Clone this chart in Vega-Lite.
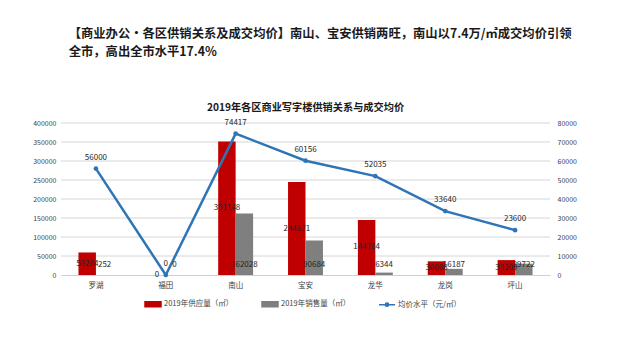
{
  "$schema": "https://vega.github.io/schema/vega-lite/v6.json",
  "background": "white",
  "padding": {"left": 32, "top": 28, "right": 5, "bottom": 5},
  "title": {
    "text": ["【商业办公·各区供销关系及成交均价】南山、宝安供销两旺，南山以7.4万/㎡成交均价引领", "全市，高出全市水平17.4%"],
    "anchor": "start",
    "dx": 36,
    "font": "Noto Sans CJK SC",
    "fontSize": 12.3,
    "fontWeight": "bold",
    "color": "#1a1a1a",
    "lineHeight": 18,
    "offset": 45
  },
  "datasets": {
    "bars": [
      {"district": "罗湖", "series": "2019年供应量（㎡）", "value": 59284},
      {"district": "罗湖", "series": "2019年销售量（㎡）", "value": 252},
      {"district": "福田", "series": "2019年供应量（㎡）", "value": 0},
      {"district": "福田", "series": "2019年销售量（㎡）", "value": 0},
      {"district": "南山", "series": "2019年供应量（㎡）", "value": 351148},
      {"district": "南山", "series": "2019年销售量（㎡）", "value": 162028},
      {"district": "宝安", "series": "2019年供应量（㎡）", "value": 244671},
      {"district": "宝安", "series": "2019年销售量（㎡）", "value": 90684},
      {"district": "龙华", "series": "2019年供应量（㎡）", "value": 144784},
      {"district": "龙华", "series": "2019年销售量（㎡）", "value": 6344},
      {"district": "龙岗", "series": "2019年供应量（㎡）", "value": 36008},
      {"district": "龙岗", "series": "2019年销售量（㎡）", "value": 16187},
      {"district": "坪山", "series": "2019年供应量（㎡）", "value": 39209},
      {"district": "坪山", "series": "2019年销售量（㎡）", "value": 29722}
    ],
    "price": [
      {"district": "罗湖", "price": 56000},
      {"district": "福田", "price": 0},
      {"district": "南山", "price": 74417},
      {"district": "宝安", "price": 60156},
      {"district": "龙华", "price": 52035},
      {"district": "龙岗", "price": 33640},
      {"district": "坪山", "price": 23600}
    ],
    "gridlines": [
      {"level": 50000}, {"level": 100000}, {"level": 150000}, {"level": 200000},
      {"level": 250000}, {"level": 300000}, {"level": 350000}, {"level": 400000}
    ]
  },
  "vconcat": [
    {
      "title": {
        "text": "2019年各区商业写字楼供销关系与成交均价",
        "font": "Noto Sans CJK SC",
        "fontSize": 10.2,
        "fontWeight": "bold",
        "color": "#1a1a1a",
        "offset": 5
      },
      "width": 489,
      "height": 152,
      "layer": [
        {
          "data": {"name": "gridlines"},
          "mark": {"type": "rule", "color": "#D6D6D6", "strokeWidth": 1},
          "encoding": {
            "y": {"field": "level", "type": "quantitative", "scale": {"domain": [0, 400000], "nice": false}, "axis": null}
          }
        },
        {
          "data": {"name": "bars"},
          "mark": {"type": "bar"},
          "encoding": {
            "x": {"field": "district", "type": "nominal", "sort": ["罗湖", "福田", "南山", "宝安", "龙华", "龙岗", "坪山"], "scale": {"paddingInner": 0.5, "paddingOuter": 0.25}, "title": null,
              "axis": {"labelAngle": 0, "labelFontSize": 7.5, "labelColor": "#404040", "domain": true, "domainColor": "#D0D0D0", "ticks": false, "labelPadding": 6, "grid": false}},
            "xOffset": {"field": "series", "type": "nominal", "scale": {"domain": ["2019年供应量（㎡）", "2019年销售量（㎡）"]}},
            "y": {"field": "value", "type": "quantitative", "scale": {"domain": [0, 400000], "nice": false}, "title": null,
              "axis": {"orient": "left", "values": [0, 50000, 100000, 150000, 200000, 250000, 300000, 350000, 400000], "format": "d", "labelOverlap": false, "grid": false, "domain": false, "ticks": false, "labelFontSize": 7, "labelColor": "#404040", "labelPadding": 5}},
            "color": {"field": "series", "type": "nominal",
              "scale": {"domain": ["2019年供应量（㎡）", "2019年销售量（㎡）", "均价水平（元/㎡）"], "range": ["#C00000", "#7F7F7F", "#2E75B6"]},
              "legend": {"orient": "none", "legendX": 83, "legendY": 172, "title": null, "direction": "horizontal", "symbolSize": 256, "labelFontSize": 7.5, "labelColor": "#404040", "columnPadding": 25, "labelOffset": 2,
                "encode": {"symbols": {"update": {
                  "shape": {"signal": "datum.value === '均价水平（元/㎡）' ? 'M-1,0H1M-0.2,0A0.2,0.2,0,1,0,0.2,0A0.2,0.2,0,1,0,-0.2,0' : 'M-1,-0.32H1V0.32H-1Z'"},
                  "fill": {"signal": "datum.value === '均价水平（元/㎡）' ? '#2E75B6' : datum.value === '2019年供应量（㎡）' ? '#C00000' : '#7F7F7F'"},
                  "stroke": {"signal": "datum.value === '均价水平（元/㎡）' ? '#2E75B6' : datum.value === '2019年供应量（㎡）' ? '#C00000' : '#7F7F7F'"},
                  "strokeWidth": {"value": 1.5},
                  "opacity": {"value": 1}
                }}}}
            }
          }
        },
        {
          "data": {"name": "price"},
          "encoding": {
            "x": {"field": "district", "type": "nominal", "sort": ["罗湖", "福田", "南山", "宝安", "龙华", "龙岗", "坪山"]},
            "y": {"field": "price", "type": "quantitative", "scale": {"domain": [0, 80000], "nice": false}, "title": null,
              "axis": {"orient": "right", "values": [0, 10000, 20000, 30000, 40000, 50000, 60000, 70000, 80000], "format": "d", "labelOverlap": false, "grid": false, "domain": false, "ticks": false, "labelFontSize": 7, "labelColor": "#404040", "labelPadding": 7}}
          },
          "layer": [
            {
              "mark": {"type": "line", "strokeWidth": 2.5},
              "encoding": {"color": {"datum": "均价水平（元/㎡）"}}
            },
            {
              "mark": {"type": "point", "filled": true, "size": 22, "opacity": 1},
              "encoding": {"color": {"datum": "均价水平（元/㎡）"}}
            },
            {
              "mark": {"type": "text", "dy": -11, "fontSize": 8, "color": "#262626", "font": "Noto Sans CJK SC"},
              "encoding": {"text": {"field": "price", "type": "quantitative", "format": "d"}}
            }
          ]
        },
        {
          "data": {"name": "bars"},
          "layer": [
            {
              "transform": [{"filter": "datum.series === '2019年供应量（㎡）'"}],
              "mark": {"type": "text", "dx": -8.7, "fontSize": 8, "color": "#262626", "font": "Noto Sans CJK SC"},
              "encoding": {
                "x": {"field": "district", "type": "nominal", "sort": ["罗湖", "福田", "南山", "宝安", "龙华", "龙岗", "坪山"]},
                "y": {"field": "value", "type": "quantitative", "scale": {"domain": [0, 800000], "nice": false}, "axis": null},
                "text": {"field": "value", "type": "quantitative", "format": "d"}
              }
            },
            {
              "transform": [{"filter": "datum.series === '2019年销售量（㎡）'"}],
              "mark": {"type": "text", "dx": 8.7, "dy": -10, "fontSize": 8, "color": "#262626", "font": "Noto Sans CJK SC"},
              "encoding": {
                "x": {"field": "district", "type": "nominal", "sort": ["罗湖", "福田", "南山", "宝安", "龙华", "龙岗", "坪山"]},
                "y": {"datum": 0, "type": "quantitative", "axis": null},
                "text": {"field": "value", "type": "quantitative", "format": "d"}
              }
            }
          ]
        }
      ],
      "resolve": {"scale": {"y": "independent"}}
    }
  ],
  "config": {
    "view": {"stroke": null},
    "font": "Noto Sans CJK SC",
    "axis": {"labelFont": "Noto Sans CJK SC", "labelColor": "#404040"},
    "legend": {"labelFont": "Noto Sans CJK SC"}
  }
}
